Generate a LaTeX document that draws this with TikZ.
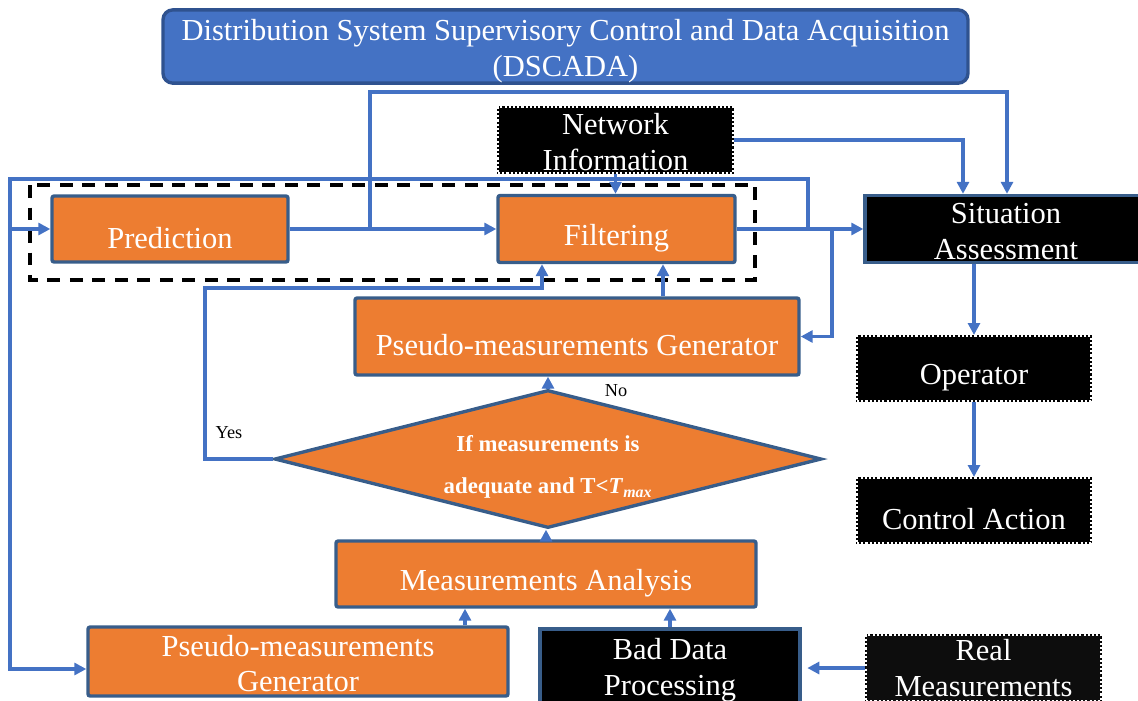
\documentclass[tikz,border=0pt]{standalone}
\usepackage{fontspec}
\setmainfont{Liberation Serif}
\usetikzlibrary{arrows.meta,shapes.geometric,calc}
\definecolor{lineblue}{HTML}{4472C4}
\definecolor{edgeblue}{HTML}{385D8A}
\definecolor{orangefill}{HTML}{ED7D31}
\definecolor{dsedge}{HTML}{2F528F}
\definecolor{nearblack}{HTML}{0D0D0D}
\def\px{0.025cm}
% single-line labels sit a little below the middle of their boxes
\newcommand\lowr[1]{\raisebox{-6.2pt}[\height][\depth]{#1}}
% strut that pushes a two-line label down a little
\newcommand\pushdown[1]{\rule{0pt}{#1}}
\begin{document}
\begin{tikzpicture}[x=0.025cm,y=-0.025cm,
  base/.style={rectangle, inner sep=0pt, align=center, text=white,
    font=\fontsize{21.7}{25.5}\selectfont},
  obox/.style={base, fill=orangefill, draw=edgeblue, line width=2.4pt, rounded corners=1.5pt},
  kbox/.style={base, fill=black, draw=white, line width=1.5pt,
    dash pattern=on 1.5pt off 1.5pt,
    preaction={draw=black, line width=1.5pt, solid}},
  sbox/.style={base, fill=black, draw=edgeblue, line width=2.4pt},
  dsbox/.style={base, fill=lineblue, draw=dsedge, line width=2.4pt, rounded corners=7pt},
  decision/.style={diamond, inner sep=0pt, aspect=3.96, fill=orangefill, draw=edgeblue,
    line width=2.4pt, text=white, align=center, font=\fontsize{16.2}{30}\selectfont\bfseries},
  lbl/.style={inner sep=0pt, text=black, font=\fontsize{13}{15}\selectfont},
  groupbox/.style={draw=black, line width=2.6pt, dash pattern=on 9pt off 7pt},
  conn/.style={draw=lineblue, line width=2.5pt},
  arr/.style={conn, -{Triangle[length=8.5pt,width=8.5pt]}}]
\useasboundingbox (0,0) rectangle (1138,700);
\clip (0,0) rectangle (1138,700);

% dashed group around prediction and filtering
\draw[groupbox] (30,185) rectangle (755,280);

% blocks
\node[dsbox, minimum width=805*\px, minimum height=67*\px] (ds) at (565.5,46.5)
  {\pushdown{22pt}Distribution System Supervisory Control and Data Acquisition\\(DSCADA)};
\node[obox, minimum width=236*\px, minimum height=66*\px] (pred) at (170,229) {\lowr{Prediction}};
\node[obox, minimum width=237*\px, minimum height=67*\px] (filt) at (616.5,229) {\lowr{Filtering}};
\node[kbox, minimum width=235*\px, minimum height=66*\px] (ni) at (615.5,140) {\pushdown{18pt}Network\\Information};
\node[sbox, minimum width=282*\px, minimum height=67*\px] (sa) at (1006,229) {\pushdown{18pt}Situation\\Assessment};
\node[kbox, minimum width=234*\px, minimum height=65*\px] (op) at (974,368.5) {\lowr{Operator}};
\node[kbox, minimum width=234*\px, minimum height=65*\px] (ca) at (974,510.5) {\lowr{Control Action}};
\node[obox, minimum width=444*\px, minimum height=77*\px] (pg) at (577,336.5) {\lowr{Pseudo-measurements Generator}};
\node[decision, minimum width=547*\px, minimum height=138*\px] (dia) at (548,459)
  {\pushdown{22.4pt}If measurements is\\adequate and T<\textit{T}\textsubscript{\textit{max}}};
\node[obox, minimum width=420*\px, minimum height=66*\px] (ma) at (546,574) {\lowr{Measurements Analysis}};
\node[obox, minimum width=420*\px, minimum height=69*\px] (pg2) at (298,661.5) {\pushdown{18pt}Pseudo-measurements\\Generator};
\node[sbox, minimum width=260*\px, minimum height=78*\px] (bdp) at (670,668) {\pushdown{18.5pt}Bad Data\\Processing};
\node[kbox, fill=nearblack, minimum width=235*\px, minimum height=66*\px] (rm) at (983.5,668) {Real\\Measurements};

\node[lbl] (yes) at (229,433) {Yes};
\node[lbl] (no) at (616,391) {No};

% junctions and bends
\coordinate (j1) at (370,229);
\coordinate (t1) at (1007,92);
\coordinate (t2) at (963,140);
\coordinate (j2) at (808,229);
\coordinate (c1) at (10,179);
\coordinate (c2) at (10,669);
\coordinate (j3) at (832,229);
\coordinate (ya) at (205,288);
\coordinate (yb) at (542,288);
\coordinate (xf) at (663,280);
\coordinate (xm) at (465,620);

% connectors
\draw[arr] (pred.east) -- (filt.west);
\draw[arr] (j1) |- (t1) -- (t1 |- sa.north);
\draw[arr] (ni.south) -- (ni.south |- filt.north);
\draw[arr] (ni.east) -- (t2) -- (t2 |- sa.north);
\draw[arr] (filt.east) -- (sa.west);
\draw[arr] (j2) |- (c1) -- (c2) -- (c2 -| pg2.west);
\draw[arr] (pred.west -| c1) -- (pred.west);
\draw[arr] (j3) |- (pg.east);
\draw[arr] (sa.south -| op.north) -- (op.north);
\draw[arr] (op.south) -- (ca.north);
\draw[arr] (pg.north -| xf) -- (filt.south -| xf);
\draw[arr] (dia.west) -| (ya) -- (yb) -- (yb |- filt.south);
\draw[arr] (dia.north) -- (dia.north |- pg.south);
\draw[arr] (ma.north) -- (ma.north |- dia.south);
\draw[arr] (pg2.north -| xm) -- (ma.south -| xm);
\draw[arr] (bdp.north) -- (bdp.north |- ma.south);
\draw[arr, shorten >=4pt] (rm.west) -- (rm.west -| bdp.east);
\end{tikzpicture}
\end{document}
